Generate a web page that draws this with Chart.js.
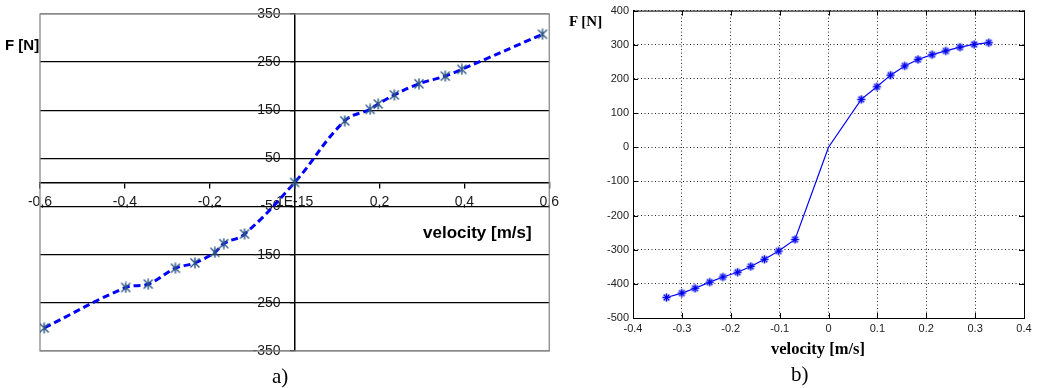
<!DOCTYPE html>
<html>
<head>
<meta charset="utf-8">
<script src="https://cdn.jsdelivr.net/npm/chart.js@4.4.0/dist/chart.umd.min.js"></script>
<style>
body { margin:0; background:#fff; width:1038px; height:388px; position:relative; overflow:hidden; }
canvas { position:absolute; top:0; }
#ca { left:0; }
#cb { left:560px; }
.lbl { position:absolute; white-space:nowrap; line-height:1; color:#000; }
.sans { font-family:'Liberation Sans', Arial, sans-serif; font-weight:bold; }
.serif { font-family:'Liberation Serif', 'Times New Roman', serif; }
</style>
</head>
<body>
<canvas id="ca" width="565" height="388"></canvas>
<canvas id="cb" width="478" height="388"></canvas>
<div class="lbl sans" style="left:5px;top:37px;font-size:15px">F [N]</div>
<div class="lbl sans" style="left:423px;top:224px;font-size:17px">velocity [m/s]</div>
<div class="lbl serif" style="left:272px;top:366px;font-size:21px">a)</div>
<div class="lbl serif" style="left:569px;top:14px;font-size:15px;font-weight:bold">F [N]</div>
<div class="lbl serif" style="left:771px;top:341px;font-size:16.5px;font-weight:bold">velocity [m/s]</div>
<div class="lbl serif" style="left:791px;top:364px;font-size:21px">b)</div>
<script>
// a) measured curve (Excel)
const velA = [-0.59, -0.398, -0.345, -0.281, -0.235, -0.188, -0.167, -0.118, 0, 0.118, 0.178, 0.197, 0.235, 0.293, 0.355, 0.394, 0.584];
const forceA = [-302, -218, -211, -178, -167, -145, -127, -107, 0, 128, 152, 163, 182, 205, 221, 235, 308];
const xLabelsA = ['-0,6', '-0,4', '-0,2', '1E-15', '0,2', '0,4', '0,6'];
const yLabelsA = ['-350', '-250', '-150', '-50', '50', '150', '250', '350'];

// b) model curve (Matlab)
const velB = [-0.3315, -0.300, -0.273, -0.243, -0.216, -0.186, -0.159, -0.131, -0.102, -0.0685, 0, 0.067, 0.099, 0.127, 0.156, 0.183, 0.212, 0.240, 0.269, 0.298, 0.328];
const forceB = [-440, -427, -413, -395, -380, -366, -349, -328, -304, -270, 0, 140, 177, 211, 238, 257, 271, 282, 293, 301, 306];
const xLabelsB = ['-0.4', '-0.3', '-0.2', '-0.1', '0', '0.1', '0.2', '0.3', '0.4'];
const yLabelsB = ['-500', '-400', '-300', '-200', '-100', '0', '100', '200', '300', '400'];

function toPoints(xs, ys) {
    return xs.map((x, i) => ({x: x, y: ys[i]}));
}

// asterisk markers
function excelStar() {
    const c = document.createElement('canvas');
    c.width = 12; c.height = 12;
    const g = c.getContext('2d');
    g.strokeStyle = '#2a5585';
    g.lineWidth = 1.4;
    g.beginPath();
    g.moveTo(1.5, 1.5); g.lineTo(10.5, 10.5);
    g.moveTo(10.5, 1.5); g.lineTo(1.5, 10.5);
    g.moveTo(6, 0.5); g.lineTo(6, 11.5);
    g.stroke();
    return c;
}
function matlabStar() {
    const c = document.createElement('canvas');
    c.width = 11; c.height = 11;
    const g = c.getContext('2d');
    const path = () => {
        g.beginPath();
        g.moveTo(5.5, 1.5); g.lineTo(5.5, 9.5);
        g.moveTo(1.5, 5.5); g.lineTo(9.5, 5.5);
        g.moveTo(2.7, 2.7); g.lineTo(8.3, 8.3);
        g.moveTo(8.3, 2.7); g.lineTo(2.7, 8.3);
    };
    g.strokeStyle = 'rgba(90,110,255,0.45)';
    g.lineWidth = 3;
    path(); g.stroke();
    g.strokeStyle = '#0000e6';
    g.lineWidth = 1.2;
    path(); g.stroke();
    return c;
}

const frameA = {
    id: 'frameA',
    beforeDatasetsDraw(chart) {
        const a = chart.chartArea, ctx = chart.ctx;
        ctx.save();
        ctx.strokeStyle = '#8a8a8a';
        ctx.lineWidth = 1.3;
        ctx.strokeRect(a.left, a.top, a.right - a.left, a.bottom - a.top);
        ctx.restore();
    }
};

const frameB = {
    id: 'frameB',
    afterDatasetsDraw(chart) {
        const a = chart.chartArea, ctx = chart.ctx;
        const sx = chart.scales.x, sy = chart.scales.y;
        ctx.save();
        ctx.strokeStyle = '#000';
        ctx.lineWidth = 1;
        ctx.strokeRect(a.left + 0.5, a.top + 0.5, a.right - a.left, a.bottom - a.top);
        ctx.beginPath();
        sx.ticks.forEach(t => {
            const p = Math.round(sx.getPixelForValue(t.value)) + 0.5;
            ctx.moveTo(p, a.bottom); ctx.lineTo(p, a.bottom - 5);
            ctx.moveTo(p, a.top); ctx.lineTo(p, a.top + 5);
        });
        sy.ticks.forEach(t => {
            const p = Math.round(sy.getPixelForValue(t.value)) + 0.5;
            ctx.moveTo(a.left, p); ctx.lineTo(a.left + 5, p);
            ctx.moveTo(a.right, p); ctx.lineTo(a.right - 5, p);
        });
        ctx.stroke();
        ctx.restore();
    }
};

const fontA = {family: "'Liberation Sans', Arial, sans-serif", size: 14};
const fontB = {family: "'Liberation Sans', Arial, sans-serif", size: 11};

new Chart(document.getElementById('ca'), {
    type: 'line',
    data: {
        datasets: [{
            data: toPoints(velA, forceA),
            borderColor: '#0000ff',
            borderWidth: 3,
            borderDash: [7, 4],
            tension: 0.4,
            pointStyle: excelStar(),
            pointRadius: 5,
            fill: false
        }]
    },
    options: {
        responsive: false,
        animation: false,
        layout: { padding: {left: 40, top: 14, right: 15, bottom: 37} },
        plugins: { legend: {display: false}, tooltip: {enabled: false} },
        scales: {
            x: {
                type: 'linear',
                position: {y: 0},
                min: -0.6, max: 0.6,
                ticks: {
                    stepSize: 0.2,
                    font: fontA, color: '#1a1a1a', padding: 6, maxRotation: 0,
                    callback: (v, i) => xLabelsA[i]
                },
                grid: { drawOnChartArea: false, drawTicks: true, tickLength: 5, color: '#000', lineWidth: 1.3 },
                border: { color: '#000', width: 1.5 }
            },
            y: {
                position: {x: 0},
                min: -350, max: 350,
                ticks: {
                    stepSize: 100,
                    font: fontA, color: '#1a1a1a',
                    // centred axis ignores padding, so keep a gap with an em space
                    callback: (v, i) => yLabelsA[i] + '\u2003'
                },
                grid: {
                    color: ctx => (ctx.tick && Math.abs(ctx.tick.value) === 350) ? '#8a8a8a' : '#000',
                    lineWidth: 1.3,
                    tickLength: 4,
                    tickColor: '#000'
                },
                border: { color: '#000', width: 1.5 }
            }
        }
    },
    plugins: [frameA]
});

new Chart(document.getElementById('cb'), {
    type: 'line',
    data: {
        datasets: [{
            data: toPoints(velB, forceB),
            borderColor: '#0000ff',
            borderWidth: 1.2,
            tension: 0,
            pointStyle: matlabStar(),
            pointRadius: velB.map(v => v === 0 ? 0 : 4),
            fill: false
        }]
    },
    options: {
        responsive: false,
        animation: false,
        layout: { padding: {left: 0, top: 8, right: 14, bottom: 0} },
        plugins: { legend: {display: false}, tooltip: {enabled: false} },
        scales: {
            x: {
                type: 'linear',
                min: -0.4, max: 0.4,
                afterFit: s => { s.height = 70; },
                ticks: {
                    stepSize: 0.1,
                    font: fontB, color: '#222', padding: 4, maxRotation: 0,
                    callback: (v, i) => xLabelsB[i]
                },
                grid: { color: '#222', lineWidth: 1, drawTicks: false },
                border: { color: '#000', width: 1, dash: [1, 2.5] }
            },
            y: {
                min: -500, max: 400,
                afterFit: s => { s.width = 73; },
                ticks: {
                    stepSize: 100,
                    font: fontB, color: '#222', padding: 4,
                    callback: (v, i) => yLabelsB[i]
                },
                grid: { color: '#222', lineWidth: 1, drawTicks: false },
                border: { color: '#000', width: 1, dash: [1, 2.5] }
            }
        }
    },
    plugins: [frameB]
});
</script>
</body>
</html>
